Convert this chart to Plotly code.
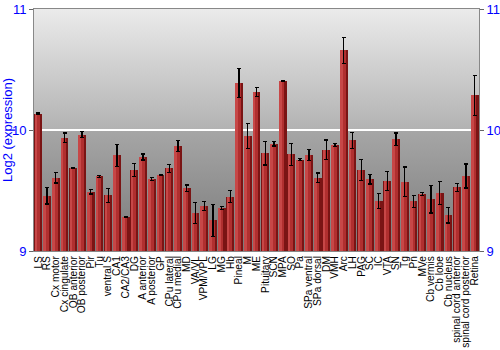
import base64
import plotly.graph_objects as go

regions = ["LS", "RS", "Cx motor", "Cx cingulate", "OB anterior", "OB posterior", "Pir", "Tu",
           "ventral S", "CA1", "CA2/CA3", "DG", "A anterior", "A posterior", "GP", "CPu lateral",
           "CPu medial", "MD", "VA/VL", "VPM/VPL", "LG", "MG", "Hb", "Pineal", "M", "ME",
           "Pituitary", "SCN", "MPA", "SO", "Pa", "SPa ventral", "SPa dorsal", "DM", "VMH", "Arc",
           "LH", "PAG", "SC", "IC", "VTA", "SN", "Tg", "Pn", "MVe", "Cb vermis", "Cb lobe",
           "Cb nucleus", "spinal cord anterior", "spinal cord posterior", "Retina"]
expression = [10.136, 9.455, 9.605, 9.937, 9.685, 9.961, 9.488, 9.617,
              9.46, 9.79, 9.281, 9.672, 9.777, 9.595, 9.628, 9.683,
              9.868, 9.519, 9.314, 9.372, 9.253, 9.355, 9.449, 10.386, 9.948, 10.314,
              9.807, 9.887, 10.402, 9.799, 9.755, 9.793, 9.606, 9.837, 9.876, 10.659,
              9.915, 9.667, 9.593, 9.413, 9.579, 9.923, 9.573, 9.41, 9.471, 9.427, 9.477,
              9.295, 9.526, 9.62, 10.287]
error = [0.004, 0.067, 0.042, 0.039, 0.003, 0.025, 0.018, 0.008,
         0.058, 0.09, 0.003, 0.054, 0.024, 0.015, 0.004, 0.033,
         0.045, 0.026, 0.087, 0.039, 0.132, 0.014, 0.05, 0.12, 0.103, 0.039,
         0.096, 0.018, 0.003, 0.09, 0.008, 0.047, 0.039, 0.08, 0.01, 0.107,
         0.066, 0.087, 0.038, 0.062, 0.077, 0.052, 0.121, 0.048, 0.01, 0.114, 0.095,
         0.063, 0.033, 0.099, 0.165]
y_ticks = [9, 10, 11]

svg = ('<svg xmlns="http://www.w3.org/2000/svg" width="100" height="100" preserveAspectRatio="none">'
       '<defs><linearGradient id="g" x1="0" y1="0" x2="0" y2="1">'
       '<stop offset="0" stop-color="#ebebeb"/><stop offset="0.5" stop-color="#b2b2b2"/>'
       '<stop offset="0.5" stop-color="#a6a6a6"/><stop offset="1" stop-color="#7a7a7a"/>'
       '</linearGradient></defs><rect width="100" height="100" fill="url(#g)"/></svg>')
bg_src = "data:image/svg+xml;base64," + base64.b64encode(svg.encode()).decode()

base_val = [v - 9 for v in expression]

fig = go.Figure()
fig.add_trace(go.Bar(x=regions, y=base_val, base=9, width=0.9, offset=-0.45,
                     marker=dict(color="#7a1414", line=dict(width=0)), hoverinfo="skip"))
fig.add_trace(go.Bar(x=regions, y=base_val, base=9, width=0.62, offset=-0.42,
                     marker=dict(color="#b02f2f", line=dict(width=0)), hoverinfo="skip"))
fig.add_trace(go.Bar(x=regions, y=base_val, base=9, width=0.3, offset=-0.42,
                     marker=dict(color="#c74747", line=dict(width=0)), hoverinfo="skip"))
fig.add_trace(go.Bar(x=regions, y=base_val, base=9, width=0.9, offset=-0.45,
                     marker=dict(color="rgba(0,0,0,0)", line=dict(width=0)),
                     error_y=dict(type="data", array=error, color="black", thickness=1.3, width=2),
                     hoverinfo="skip"))
fig.add_trace(go.Scatter(x=[regions[0]], y=[9], yaxis="y2", mode="markers",
                         marker=dict(opacity=0), showlegend=False, hoverinfo="skip"))

fig.add_layout_image(dict(source=bg_src, xref="paper", yref="paper", x=0, y=1, sizex=1, sizey=1,
                          sizing="stretch", layer="below"))

axis_font = dict(family="Liberation Sans, Arial, sans-serif", size=13, color="#0000ff")
fig.update_layout(
    width=500, height=350,
    margin=dict(l=34, r=21, t=9, b=99),
    paper_bgcolor="white", plot_bgcolor="rgba(0,0,0,0)",
    barmode="overlay", bargap=0, showlegend=False,
    xaxis=dict(tickangle=-90, tickfont=dict(family="Liberation Sans, Arial, sans-serif", size=10.2, color="black"),
               tickmode="linear", tick0=0, dtick=1, automargin=False,
               showline=True, linecolor="#888888", mirror=True, ticks="", showgrid=False,
               range=[-0.5, len(regions) - 0.5]),
    yaxis=dict(range=[9, 11], tickvals=y_ticks, ticktext=[str(t) for t in y_ticks], tickfont=axis_font,
               ticks="outside", ticklen=4, tickcolor="#666666", showline=True, linecolor="#888888",
               showgrid=True, gridcolor="white", gridwidth=2, zeroline=False, automargin=False,
               title=dict(text="Log2 (expression)", font=axis_font, standoff=4)),
    yaxis2=dict(range=[9, 11], tickvals=y_ticks, ticktext=[str(t) for t in y_ticks], tickfont=axis_font,
                overlaying="y", side="right", ticks="outside", ticklen=4, tickcolor="#666666",
                showline=True, linecolor="#888888", showgrid=False, zeroline=False, automargin=False),
)

fig.write_html("out.html")
